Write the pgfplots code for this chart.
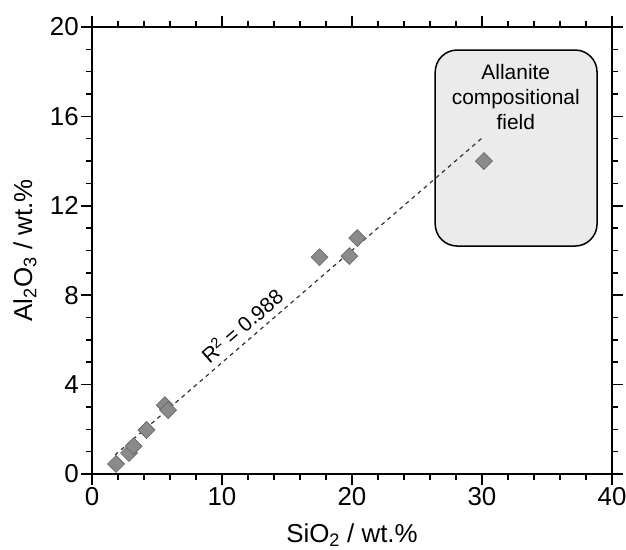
\documentclass[border=0pt]{standalone}
\usepackage{fontspec}
\setmainfont{Liberation Sans}
\usepackage{pgfplots}
\pgfplotsset{compat=1.18}
\definecolor{mkfill}{HTML}{8A8A8A}
\definecolor{mkedge}{HTML}{636363}
\definecolor{boxfill}{HTML}{EBEBEB}
\begin{document}
\begin{tikzpicture}
\path[use as bounding box] (-92bp,-76bp) rectangle (534bp,474bp);
\begin{axis}[
  at={(0,0)}, anchor=south west,
  scale only axis,
  width=520bp, height=447bp,
  xmin=0, xmax=40, ymin=0, ymax=20,
  xtick={0,10,20,30,40}, ytick={0,4,8,12,16,20},
  minor x tick num=4, minor y tick num=3,
  tick align=outside,
  xtick pos=both, ytick pos=both,
  xticklabel pos=bottom, yticklabel pos=left,
  major tick length=11bp, minor tick length=6bp,
  axis line style={line width=1.6bp},
  every tick/.style={black, line width=1.5bp},
  /pgf/number format/assume math mode=true,
  tick label style={font=\fontsize{26}{30}\selectfont},
  xticklabel style={inner sep=2bp},
  yticklabel style={inner sep=2bp},
  xlabel={SiO\textsubscript{2} / wt.\%},
  ylabel={Al\textsubscript{2}O\textsubscript{3} / wt.\%},
  label style={font=\fontsize{26}{30}\selectfont},
  xlabel style={at={(axis description cs:0.5,-0.153)}, anchor=base},
  ylabel style={at={(axis description cs:-0.129,0.5)}, anchor=center, rotate=0},
  clip=false,
]
\draw[line width=1.5bp, fill=boxfill, rounded corners=22bp]
  (axis cs:26.4,10.2) rectangle (axis cs:38.85,18.97);
\node[align=center, font=\fontsize{21}{25}\selectfont] at (axis cs:32.6,16.85)
  {Allanite\\compositional\\field};
\addplot[only marks, mark=square*, mark size=6bp,
  mark options={fill=mkfill, draw=mkedge, line width=0.6bp, rotate=45}]
  coordinates {
  (1.85,0.45) (2.85,0.94) (3.2,1.25) (4.2,1.97) (5.6,3.08) (5.85,2.86)
  (17.5,9.7) (19.8,9.75) (20.4,10.56) (30.15,14.0)
  };
\addplot[black!80, line width=1.2bp, dash pattern=on 4bp off 4bp]
  coordinates {(1.77,0.85) (29.98,15.02)};
\node[rotate=41, font=\fontsize{21}{24}\selectfont] at (axis cs:11.5,6.65) {R\textsuperscript{2} = 0.988};
\end{axis}
\end{tikzpicture}
\end{document}
